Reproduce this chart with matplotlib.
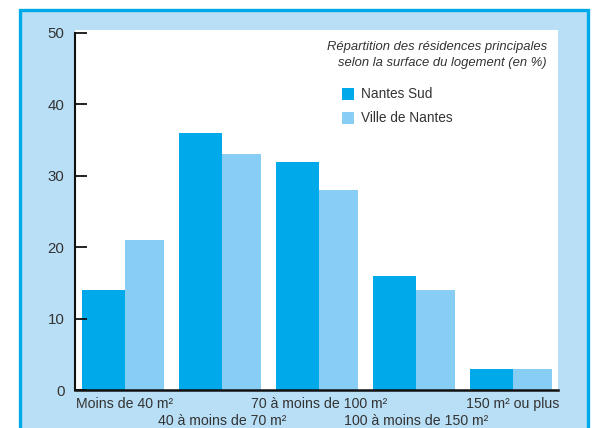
import matplotlib
matplotlib.use("Agg")
import matplotlib.pyplot as plt
from matplotlib.patches import Rectangle
import numpy as np

categories = ["Moins de 40 m²", "40 à moins de 70 m²", "70 à moins de 100 m²",
              "100 à moins de 150 m²", "150 m² ou plus"]
nantes_sud = [14, 36, 32, 16, 3]
ville_nantes = [21, 33, 28, 14, 3]
yticks = [0, 10, 20, 30, 40, 50]
series_names = ["Nantes Sud", "Ville de Nantes"]
title = "Répartition des résidences principales\nselon la surface du logement (en %)"

DARK = "#00A9E9"
LIGHT = "#88CDF3"
BG = "#B9DFF6"
TXT = "#333333"

plt.rcParams['font.family'] = ['Liberation Sans', 'DejaVu Sans']

W, H = 593, 428
fig = plt.figure(figsize=(W / 100, H / 100), dpi=100, facecolor="white")

# outer frame
frame = Rectangle((19.5 / W, -0.1), (588 - 19.5) / W, 1.1 - 9.5 / H,
                  transform=fig.transFigure, facecolor=BG, edgecolor=DARK,
                  linewidth=2.4, zorder=-5)
fig.patches.append(frame)

left, right = 75 / W, 558 / W
bottom, top = 1 - 390 / H, 1 - 30 / H
ax = fig.add_axes([left, bottom, right - left, top - bottom])
ax.set_zorder(1)
ax.set_facecolor("white")

x = np.arange(len(categories))
WD, WL = 0.445, 0.40
ax.bar(x - WD, nantes_sud, width=WD, align="edge", color=DARK, label=series_names[0])
ax.bar(x, ville_nantes, width=WL, align="edge", color=LIGHT, label=series_names[1])

ax.set_xlim(-0.515, 4.464)
ax.set_ylim(0, 50.42)

for s in ["top", "right"]:
    ax.spines[s].set_visible(False)
ax.spines["left"].set_bounds(0, 50)
ax.spines["left"].set_linewidth(1.5)
ax.spines["bottom"].set_linewidth(1.8)
ax.spines["left"].set_color("#111111")
ax.spines["bottom"].set_color("#111111")

ax.set_yticks(yticks)
ax.set_yticklabels([str(v) for v in yticks])
ax.tick_params(axis="y", direction="in", length=8.6, width=1.3, pad=7.5,
               labelsize=10.8, labelcolor=TXT, color="#111111")
ax.set_xticks([])

for i, c in enumerate(categories):
    yoff = 404 if i % 2 == 0 else 421
    xpix = 125 + 97 * i
    fig.text(xpix / W, 1 - yoff / H, c, ha="center", va="center",
             fontsize=10.2, color=TXT)

fig.text(547 / W, 1 - 55 / H, title, ha="right", va="center", fontsize=9.4,
         style="italic", color=TXT, linespacing=1.35)

# legend
for j, (name, col) in enumerate(zip(series_names, [DARK, LIGHT])):
    yc = 94 + 23.5 * j
    fig.patches.append(Rectangle((342 / W, 1 - (yc + 6) / H), 12 / W, 12 / H,
                                 transform=fig.transFigure, facecolor=col,
                                 edgecolor="none", zorder=5))
    fig.text(361 / W, 1 - yc / H, name, ha="left", va="center",
             fontsize=9.8, color=TXT)

fig.savefig("out.png", dpi=100, facecolor="white")
